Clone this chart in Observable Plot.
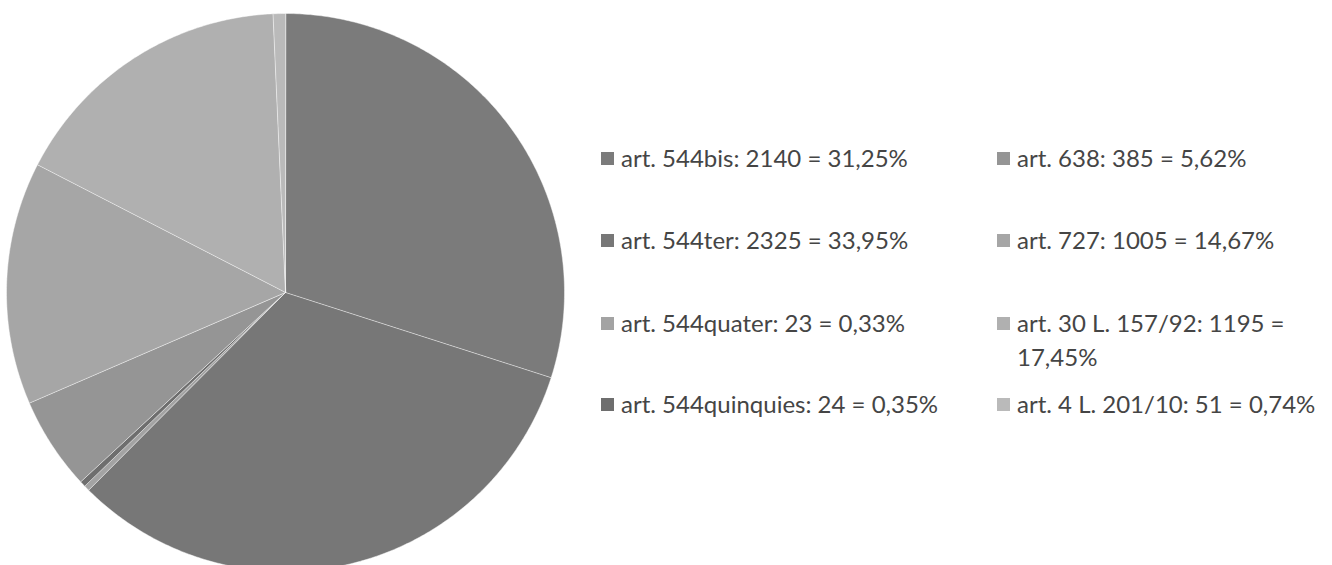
<!DOCTYPE html>
<html>
<head>
<meta charset="utf-8">
<script src="https://cdn.jsdelivr.net/npm/d3@7"></script>
<script src="https://cdn.jsdelivr.net/npm/@observablehq/plot@0.6"></script>
<style>
  html, body { margin: 0; padding: 0; background: #fff; }
  #wrap { position: relative; width: 1332px; height: 565px; overflow: hidden; }
  #legend { position: absolute; left: 0; top: 0; width: 1332px; height: 565px; font-family: Lato, "Open Sans", sans-serif; font-size: 24px; color: #454545; }
  .item { position: absolute; display: flex; align-items: flex-start; line-height: 34px; width: 335px; }
  .sw { width: 13px; height: 13px; margin-top: 11px; margin-right: 7px; flex: none; }
  .lab { max-width: 305px; }
  .c0 .lab { max-width: none; white-space: nowrap; }
</style>
</head>
<body>
<div id="wrap"><div id="chart"></div><div id="legend"></div></div>
<script>
const names = ["art. 544bis", "art. 544ter", "art. 544quater", "art. 544quinquies", "art. 638", "art. 727", "art. 30 L. 157/92", "art. 4 L. 201/10"];
const counts = [2140, 2325, 23, 24, 385, 1005, 1195, 51];
const percents = ["31,25%", "33,95%", "0,33%", "0,35%", "5,62%", "14,67%", "17,45%", "0,74%"];
const colors = ["#7b7b7b", "#777777", "#a3a3a3", "#6e6e6e", "#959595", "#a6a6a6", "#b0b0b0", "#bababa"];

const rows = names.map((n, i) => ({name: n, count: counts[i], pct: percents[i]}));
const arcs = d3.pie().sort(null).value(d => d.count)(rows);

// polygon points for each slice (unit circle, angle 0 at top, clockwise)
const pts = [];
for (const a of arcs) {
  const name = a.data.name;
  pts.push({name, x: 0, y: 0});
  const n = Math.max(2, Math.ceil((a.endAngle - a.startAngle) / 0.01));
  for (let k = 0; k <= n; k++) {
    const t = a.startAngle + (a.endAngle - a.startAngle) * k / n;
    pts.push({name, x: Math.sin(t), y: Math.cos(t)});
  }
}

const cx = 285, cy = 292, R = 279;
const chart = Plot.plot({
  width: 1332,
  height: 565,
  margin: 0,
  x: {domain: [-1, 1], range: [cx - R, cx + R], axis: null},
  y: {domain: [-1, 1], range: [cy + R, cy - R], axis: null},
  color: {domain: names, range: colors},
  marks: [
    Plot.line(pts, {x: "x", y: "y", z: "name", fill: "name", stroke: "#ffffff", strokeOpacity: 0.45, strokeWidth: 1, curve: "linear-closed"})
  ]
});
document.getElementById("chart").appendChild(chart);

// legend (column-major, 2 columns x 4 rows)
const colX = [601, 997];
const rowTop = [141, 223, 306, 387];
const legend = document.getElementById("legend");
names.forEach((n, i) => {
  const col = Math.floor(i / 4), row = i % 4;
  const item = document.createElement("div");
  item.className = "item c" + col;
  item.style.left = colX[col] + "px";
  item.style.top = rowTop[row] + "px";
  const sw = document.createElement("div");
  sw.className = "sw";
  sw.style.background = chart.scale("color").apply(n);
  const lab = document.createElement("div");
  lab.className = "lab";
  lab.textContent = `${n}: ${counts[i]} = ${percents[i]}`;
  item.appendChild(sw);
  item.appendChild(lab);
  legend.appendChild(item);
});
</script>
</body>
</html>
